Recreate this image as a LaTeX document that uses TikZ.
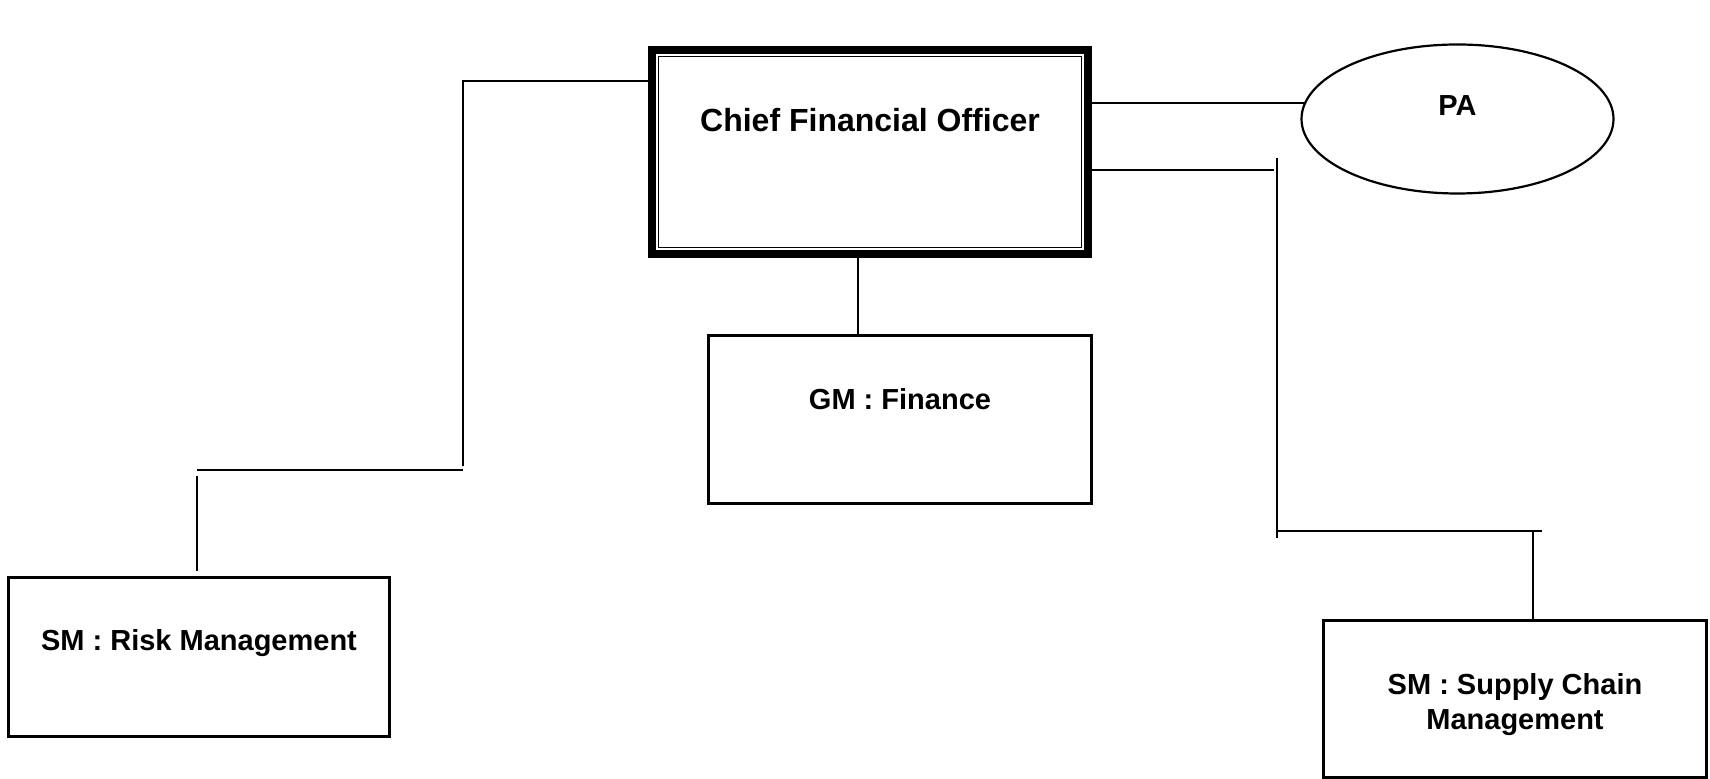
\documentclass[tikz,border=0pt]{standalone}
\usepackage{fontspec}
\setmainfont{Liberation Sans}
\usetikzlibrary{positioning,shapes.geometric}

\tikzset{
  unitbox/.style={draw, rectangle, line width=1.1pt, inner sep=0pt, outer sep=0pt,
    minimum width=191.5pt, minimum height=79pt},
  headbox/.style={draw, rectangle, line width=3.85pt, inner sep=0pt, outer sep=0pt,
    minimum width=218pt, minimum height=102pt},
  aidoval/.style={draw, ellipse, line width=1.1pt, inner sep=0pt, outer sep=0pt,
    minimum width=156pt, minimum height=74.5pt},
  txt/.style={font=\bfseries\fontsize{14.5}{17.5}\selectfont},
  link/.style={line width=1.1pt},
}

\begin{document}
\begin{tikzpicture}[x=0.5pt,y=-0.5pt,on grid,every label/.style={txt}]
   \useasboundingbox (0,0) rectangle (1710,779);
   % boxes
   \node[headbox, label={[font=\bfseries\fontsize{16}{19}\selectfont, yshift=16pt]center:{Chief Financial Officer}}] (cfo) at (870,152) {};
   \draw[line width=0.85pt] ([shift={(3.3pt,-3.3pt)}]cfo.north west) rectangle ([shift={(-3.3pt,3.3pt)}]cfo.south east);
   \node[aidoval, label={[yshift=6.5pt]center:{PA}}] (pa) [above right=16.5pt and 293.75pt of cfo] {};
   \node[unitbox, minimum height=84pt, label={[yshift=10pt]center:{GM : Finance}}] (gm) [below right=133.75pt and 15pt of cfo] {};
   \node[unitbox, minimum width=190.5pt, minimum height=79.5pt, label={[yshift=7pt]center:{SM : Risk Management}}] (risk) [below left=252.5pt and 335.5pt of cfo] {};
   \node[unitbox, minimum height=78.5pt, label={[align=center, yshift=-3pt]center:{SM : Supply Chain\\Management}}] (scm) [below right=273.5pt and 322.5pt of cfo] {};
   % elbows
   \coordinate (lt) at (463,81);
   \coordinate (lb) at (463,466);
   \coordinate (lr) at (463,470);
   \coordinate (ll) at (197,470);
   \coordinate (ld) at (197,476);
   \coordinate (le) at (197,571);
   \coordinate (rm) at (1274,170);
   \coordinate (rt) at (1277,158);
   \coordinate (rb) at (1277,538);
   \coordinate (sl) at (1278,531);
   \coordinate (sr) at (1542,531);
   \coordinate (sd) at (1533,531);
   \coordinate (gt) at (858,259);
   % connectors
   \draw[link] (cfo.west |- lt) -- (lt) -- (lb);
   \draw[link] (lr) -- (ll);
   \draw[link] (ld) -- (le);
   \draw[link] (cfo.east |- pa.174) -- (pa.174);
   \draw[link] (cfo.east |- rm) -- (rm);
   \draw[link] (rt) -- (rb);
   \draw[link] (sl) -- (sr);
   \draw[link] (sd) -- (sd |- scm.north);
   \draw[link] (gt |- cfo.south) -- (gt |- gm.north);
\end{tikzpicture}
\end{document}
